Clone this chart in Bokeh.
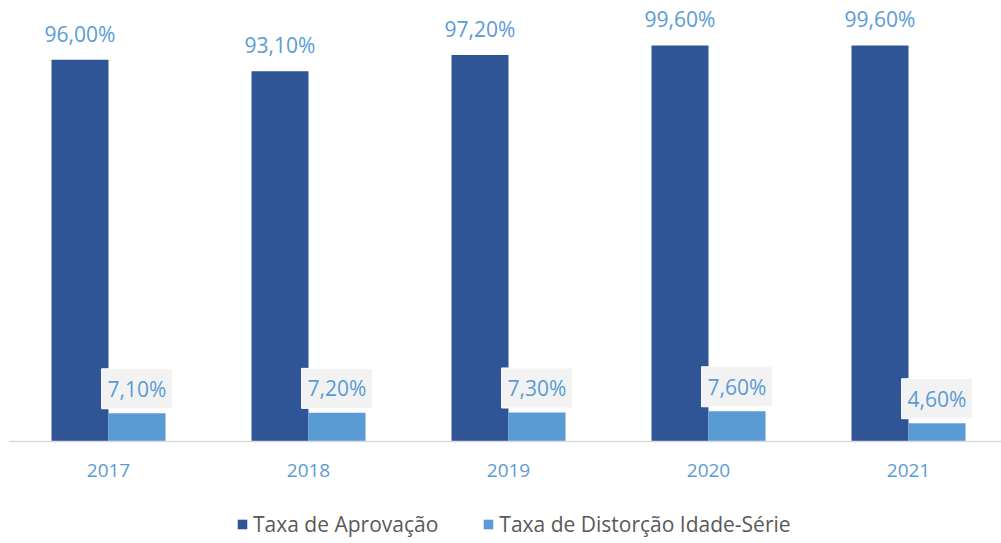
from bokeh.plotting import figure
from bokeh.models import (ColumnDataSource, Range1d, LabelSet, Legend, LegendItem,
                          FixedTicker, LinearAxis)
from bokeh.core.properties import value
from bokeh.embed import file_html
from bokeh.resources import INLINE

years = ["2017", "2018", "2019", "2020", "2021"]
aprovacao = [96.0, 93.1, 97.2, 99.6, 99.6]
distorcao = [7.1, 7.2, 7.3, 7.6, 4.6]

def fmt(v):
    return f"{v:.2f}".replace(".", ",") + "%"

DARK = "#2f5597"
LIGHT = "#5b9bd5"
BAR_W = 0.285
xs = list(range(len(years)))

src_a = ColumnDataSource(dict(x=[i - BAR_W / 2 for i in xs], top=aprovacao,
                              lab=[fmt(v) for v in aprovacao]))
src_d = ColumnDataSource(dict(x=[i + BAR_W / 2 for i in xs], top=distorcao,
                              lab=[fmt(v) for v in distorcao]))

p = figure(width=1001, height=543, output_backend="svg", toolbar_location=None,
           x_range=Range1d(-0.5, 4.465), y_range=Range1d(-25.65, 110.9),
           x_axis_location=None, y_axis_location=None,
           min_border_left=8, min_border_right=0, min_border_top=0, min_border_bottom=0)
p.outline_line_color = None
p.background_fill_color = "white"
p.border_fill_color = "white"
p.xgrid.visible = False
p.ygrid.visible = False

ra = p.vbar(x="x", top="top", width=BAR_W, source=src_a, fill_color=DARK, line_color=None)
rd = p.vbar(x="x", top="top", width=BAR_W, source=src_d, fill_color=LIGHT, line_color=None)

ax = LinearAxis(fixed_location=0)
ax.ticker = FixedTicker(ticks=xs)
ax.major_label_overrides = {i: y for i, y in enumerate(years)}
ax.axis_line_color = "#d9d9d9"
ax.axis_line_width = 1.5
ax.major_tick_line_color = None
ax.minor_tick_line_color = None
ax.major_label_standoff = 16
ax.major_label_text_font = "Open Sans"
ax.major_label_text_font_size = "19px"
ax.major_label_text_color = LIGHT
p.add_layout(ax, "below")

la = LabelSet(x="x", y="top", text="lab", source=src_a, text_align="center",
              text_baseline="alphabetic", y_offset=18, text_font=value("Open Sans"),
              text_font_size="21px", text_color=LIGHT)
p.add_layout(la)

p.text(x="x", y="top", text="lab", source=src_d, text_align="center",
       text_baseline="middle", y_offset=-24.5, text_font=value("Open Sans"),
       text_font_size="21px", text_color=LIGHT,
       background_fill_color="#f2f2f2", border_line_color="white",
       border_line_width=1, padding=6)

legend = Legend(items=[LegendItem(label="Taxa de Aprovação", renderers=[ra]),
                       LegendItem(label="Taxa de Distorção Idade-Série", renderers=[rd])],
                orientation="horizontal", location=(228, 5),
                glyph_width=12, glyph_height=12, label_standoff=5, spacing=44,
                label_height=20, padding=0, margin=0, border_line_color=None,
                background_fill_alpha=0,
                label_text_font="Open Sans", label_text_font_size="21px",
                label_text_color="#595959")
p.add_layout(legend, "center")

open("out.html", "w").write(file_html(p, INLINE))
